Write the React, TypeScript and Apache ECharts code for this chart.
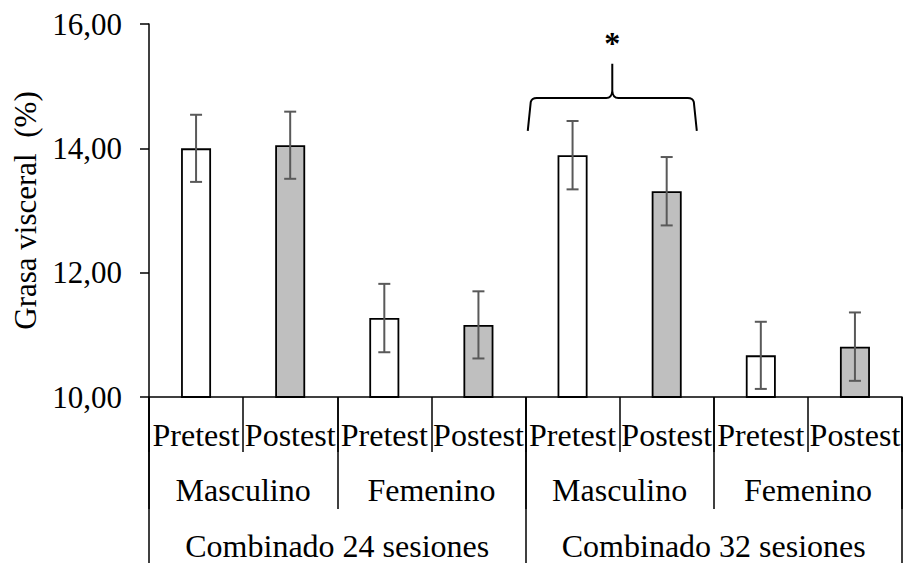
import React, { useEffect, useRef } from "react";
import * as echarts from "echarts";

const conditions = ["Pretest", "Postest", "Pretest", "Postest", "Pretest", "Postest", "Pretest", "Postest"];
const sexGroups = ["Masculino", "Femenino", "Masculino", "Femenino"];
const sessionGroups = ["Combinado 24 sesiones", "Combinado 32 sesiones"];
const means = [14.0, 14.05, 11.27, 11.16, 13.89, 13.31, 10.67, 10.81];
const errors = [0.54, 0.54, 0.55, 0.54, 0.55, 0.55, 0.54, 0.55];
const yAxisName = "Grasa visceral  (%)";
const significanceLabel = "*";
const significancePair = [4, 5];
// brace heights (in axis units)
const braceLevels = { foot: 14.28, body: 14.81, tip: 15.36, star: 15.7 };

const FONT = "'Liberation Serif', 'Times New Roman', serif";
const conditionColor: Record<string, string> = { Pretest: "#ffffff", Postest: "#bfbfbf" };

export default function App() {
  const ref = useRef<HTMLDivElement>(null);
  useEffect(() => {
    if (!ref.current) return;
    const chart = echarts.init(ref.current, undefined, { renderer: "svg" });
    const textBase = { fontFamily: FONT, color: "#000" };
    const lineStyle = { color: "#000", width: 1.5 };
    chart.setOption({
      animation: false,
      grid: { left: 149, right: 2, top: 24, bottom: 166, containLabel: false },
      xAxis: [
        {
          type: "category",
          data: conditions,
          position: "bottom",
          axisLine: { show: true, lineStyle },
          axisTick: { show: true, interval: 0, length: 55, lineStyle },
          axisLabel: { interval: 0, margin: 22, fontSize: 32, ...textBase },
        },
        {
          type: "category",
          data: sexGroups,
          position: "bottom",
          axisLine: { show: false },
          axisTick: { show: true, interval: 0, length: 112, lineStyle },
          axisLabel: { interval: 0, margin: 77, fontSize: 32, ...textBase },
        },
        {
          type: "category",
          data: sessionGroups,
          position: "bottom",
          axisLine: { show: false },
          axisTick: { show: true, interval: 0, length: 175, lineStyle },
          axisLabel: { interval: 0, margin: 133, fontSize: 32, ...textBase },
        },
      ],
      yAxis: {
        type: "value",
        min: 10,
        max: 16,
        interval: 2,
        name: yAxisName,
        nameLocation: "middle",
        nameGap: 108,
        nameTextStyle: { fontSize: 31, ...textBase },
        axisLine: { show: true, lineStyle },
        axisTick: { show: true, length: 9, lineStyle },
        splitLine: { show: false },
        axisLabel: {
          margin: 27,
          fontSize: 31,
          ...textBase,
          formatter: (v: number) => v.toFixed(2).replace(".", ","),
        },
      },
      series: [
        {
          type: "bar",
          xAxisIndex: 0,
          barWidth: 30,
          data: means.map((v, i) => ({
            value: v,
            itemStyle: { color: conditionColor[conditions[i]], borderColor: "#000", borderWidth: 1.8 },
          })),
          z: 2,
        },
        {
          type: "custom",
          xAxisIndex: 0,
          z: 5,
          encode: { x: 0, y: 1 },
          data: means.map((m, i) => [i, m, errors[i]]),
          renderItem: (params: any, api: any) => {
            const i = api.value(0);
            const m = api.value(1);
            const e = api.value(2);
            const top = api.coord([i, m + e]);
            const bot = api.coord([i, m - e]);
            const cap = 6;
            const style = { stroke: "#595959", lineWidth: 2 };
            return {
              type: "group",
              children: [
                { type: "line", shape: { x1: top[0], y1: top[1], x2: bot[0], y2: bot[1] }, style },
                { type: "line", shape: { x1: top[0] - cap, y1: top[1], x2: top[0] + cap, y2: top[1] }, style },
                { type: "line", shape: { x1: bot[0] - cap, y1: bot[1], x2: bot[0] + cap, y2: bot[1] }, style },
              ],
            };
          },
        },
      ],
    });

    const c0 = chart.convertToPixel({ xAxisIndex: 0 }, significancePair[0]) as number;
    const c1 = chart.convertToPixel({ xAxisIndex: 0 }, significancePair[1]) as number;
    const bw = c1 - c0;
    const L = c0 - 0.476 * bw;
    const R = c1 + 0.32 * bw;
    const M = (L + R) / 2;
    const yb = chart.convertToPixel({ yAxisIndex: 0 }, braceLevels.foot) as number;
    const yh = chart.convertToPixel({ yAxisIndex: 0 }, braceLevels.body) as number;
    const yt = chart.convertToPixel({ yAxisIndex: 0 }, braceLevels.tip) as number;
    const ys = chart.convertToPixel({ yAxisIndex: 0 }, braceLevels.star) as number;
    const d =
      `M ${L} ${yb} L ${L + 3} ${yh + 4} Q ${L + 4} ${yh} ${L + 9} ${yh} L ${M - 6} ${yh} ` +
      `Q ${M - 0.5} ${yh} ${M} ${yh - 7} L ${M} ${yt} M ${M} ${yh - 7} Q ${M + 0.5} ${yh} ${M + 6} ${yh} ` +
      `L ${R - 9} ${yh} Q ${R - 4} ${yh} ${R - 3} ${yh + 4} L ${R} ${yb}`;
    echarts.graphic.registerShape("sigBrace", echarts.graphic.extendPath(d, {}) as any);
    chart.setOption({
      graphic: [
        {
          type: "sigBrace",
          x: 0,
          y: 0,
          scaleX: 1,
          scaleY: 1,
          style: { fill: "none", stroke: "#000", lineWidth: 2 },
          z: 10,
        },
        {
          type: "text",
          x: M,
          y: ys,
          style: {
            text: significanceLabel,
            fontSize: 32,
            fontWeight: "bold",
            fontFamily: FONT,
            fill: "#000",
            align: "center",
            verticalAlign: "middle",
          },
          z: 10,
        },
      ],
    });

    return () => chart.dispose();
  }, []);
  return (
    <div
      ref={ref}
      style={{ position: "fixed", left: 0, top: 0, width: 904, height: 563, background: "#fff" }}
    />
  );
}
